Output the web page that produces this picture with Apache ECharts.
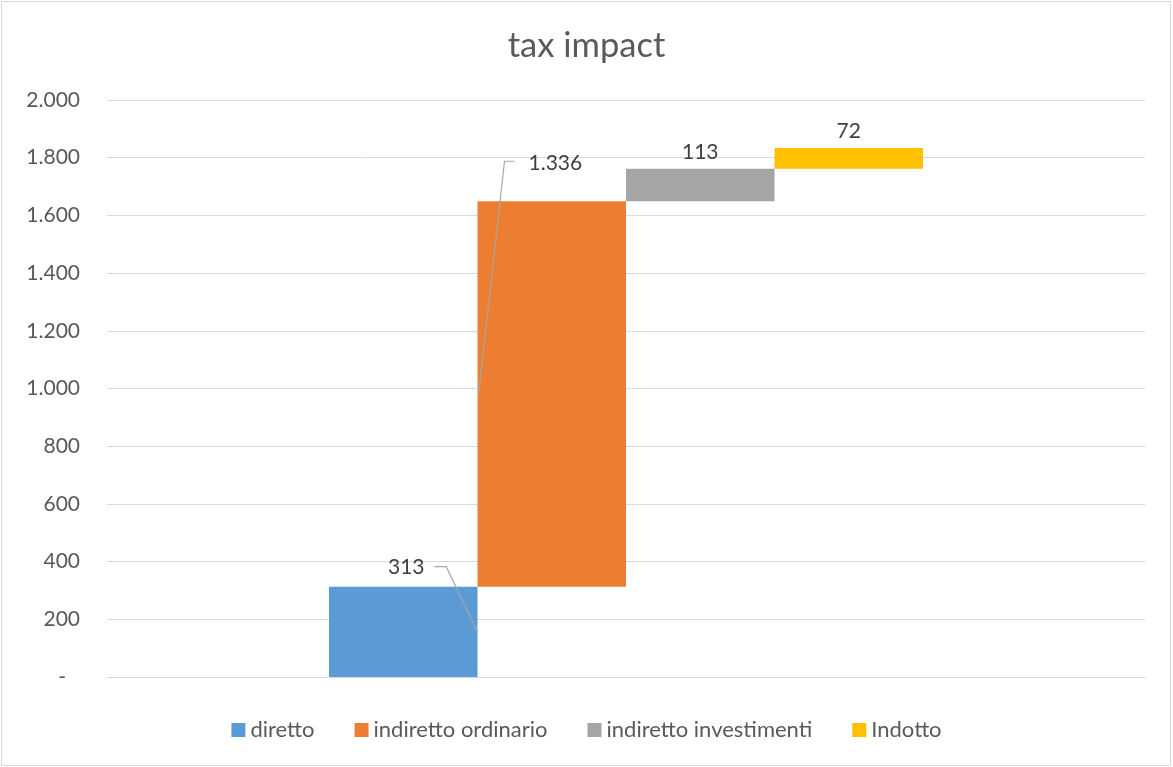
<!DOCTYPE html>
<html>
<head>
<meta charset="utf-8">
<script src="https://cdn.jsdelivr.net/npm/echarts@6/dist/echarts.min.js"></script>
<style>
html,body{margin:0;padding:0;background:#fff;}
#main{width:1173px;height:767px;}
</style>
</head>
<body>
<div id="main"></div>
<script>
// ---- data ----
var categories = ['tax impact'];
var seriesNames = ['diretto', 'indiretto ordinario', 'indiretto investimenti', 'Indotto'];
var seriesValues = [313, 1336, 113, 72];
var seriesColors = ['#5b9bd5', '#ed7d31', '#a5a5a5', '#ffc000'];
var yTicks = [0, 200, 400, 600, 800, 1000, 1200, 1400, 1600, 1800, 2000];

// cumulative bases for the waterfall
var bases = [];
var acc = 0;
for (var i = 0; i < seriesValues.length; i++) { bases.push(acc); acc += seriesValues[i]; }

function fmt(v) {
  return String(Math.round(v)).replace(/\B(?=(\d{3})+(?!\d))/g, '.');
}

var FONT = 'Lato, "Open Sans", sans-serif';
var BAR_W = 148.5;

var series = [];
for (var i = 0; i < seriesNames.length; i++) {
  series.push({
    name: '_base' + i,
    type: 'bar',
    stack: 's' + i,
    barWidth: BAR_W,
    barGap: '0%',
    silent: true,
    itemStyle: { color: 'transparent' },
    emphasis: { disabled: true },
    data: [bases[i]]
  });
  var s = {
    name: seriesNames[i],
    type: 'bar',
    stack: 's' + i,
    barWidth: BAR_W,
    barGap: '0%',
    itemStyle: { color: seriesColors[i] },
    data: [seriesValues[i]]
  };
  if (i >= 2) {
    s.label = {
      show: true, position: 'top', distance: 6,
      formatter: function (p) { return fmt(p.value); },
      color: '#404040', fontFamily: FONT, fontSize: 21
    };
  }
  series.push(s);
}

// labels with leader lines for the first two series
var leaderData = [];
for (var i = 0; i < 2; i++) leaderData.push([0, bases[i], seriesValues[i], i]);

series.push({
  type: 'custom',
  name: '_leaders',
  silent: true,
  data: leaderData,
  encode: { x: 0, y: 1 },
  renderItem: function (params, api) {
    var idx = api.value(3);
    var base = api.value(1), val = api.value(2);
    var c = api.coord([api.value(0), base + val]);
    var mid = api.coord([api.value(0), base + val / 2]);
    var cx = c[0] + (idx - 1.5) * BAR_W;
    var left = cx - BAR_W / 2, right = cx + BAR_W / 2;
    var topY = c[1];
    var children = [];
    if (idx === 0) {
      children.push({
        type: 'text',
        style: { text: fmt(val), x: cx + 3, y: topY - 19, align: 'center', verticalAlign: 'middle',
                 font: '21px ' + FONT, fill: '#404040' }
      });
      children.push({
        type: 'polyline',
        shape: { points: [[cx + 31, topY - 20], [cx + 43, topY - 20], [right, mid[1]]] },
        style: { stroke: '#a6a6a6', lineWidth: 1.2, fill: null }
      });
    } else {
      children.push({
        type: 'text',
        style: { text: fmt(val), x: left + 51, y: topY - 38, align: 'left', verticalAlign: 'middle',
                 font: '21px ' + FONT, fill: '#404040' }
      });
      children.push({
        type: 'polyline',
        shape: { points: [[left + 37, topY - 40], [left + 27, topY - 40], [left + 1, mid[1]]] },
        style: { stroke: '#a6a6a6', lineWidth: 1.2, fill: null }
      });
    }
    return { type: 'group', children: children };
  },
  z: 10
});

var chart = echarts.init(document.getElementById('main'), null, { renderer: 'canvas' });
chart.setOption({
  animation: false,
  backgroundColor: '#ffffff',
  title: {
    text: 'tax impact',
    left: 'center',
    top: 23,
    textStyle: { fontFamily: FONT, fontSize: 34.5, fontWeight: 'normal', color: '#595959' }
  },
  legend: {
    data: seriesNames,
    bottom: 21,
    left: 'center',
    itemWidth: 14,
    itemHeight: 14,
    itemGap: 40,
    icon: 'rect',
    textStyle: { fontFamily: FONT, fontSize: 22, color: '#595959' },
    selectedMode: false
  },
  grid: { left: 107, right: 28, top: 100, bottom: 90, containLabel: false },
  xAxis: {
    type: 'category',
    data: categories,
    axisLine: { show: true, lineStyle: { color: '#d9d9d9', width: 1 } },
    axisTick: { show: false },
    axisLabel: { show: false },
    splitLine: { show: false }
  },
  yAxis: {
    type: 'value',
    min: yTicks[0],
    max: yTicks[yTicks.length - 1],
    interval: yTicks[1] - yTicks[0],
    axisLine: { show: false },
    axisTick: { show: false },
    splitLine: { lineStyle: { color: '#d9d9d9', width: 1 } },
    axisLabel: {
      margin: 27,
      fontFamily: FONT, fontSize: 21, color: '#595959',
      formatter: function (v) { return v === 0 ? '{d|-}' : fmt(v); },
      rich: { d: { fontFamily: FONT, fontSize: 21, color: '#595959', padding: [0, 14, 0, 0] } }
    }
  },
  graphic: [{
    type: 'rect',
    shape: { x: 1.5, y: 1.5, width: 1169, height: 764 },
    style: { fill: null, stroke: '#d9d9d9', lineWidth: 1 },
    silent: true
  }],
  series: series
});
</script>
</body>
</html>
